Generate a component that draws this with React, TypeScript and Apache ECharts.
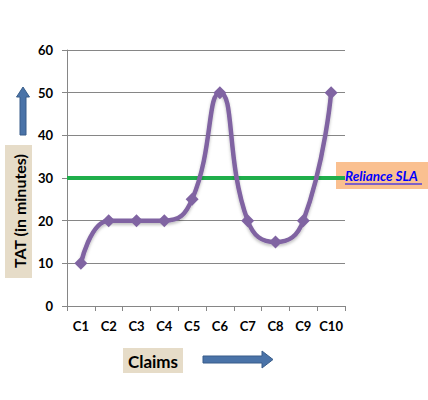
import React, { useEffect, useRef } from "react";
import * as echarts from "echarts";

const categories = ["C1", "C2", "C3", "C4", "C5", "C6", "C7", "C8", "C9", "C10"];
const tatValues = [10, 20, 20, 20, 25, 50, 20, 15, 20, 50];
const slaValue = 30;
const yTicks = { min: 0, max: 60, interval: 10 };

export default function App() {
  const ref = useRef<HTMLDivElement>(null);
  useEffect(() => {
    document.body.style.margin = "0";
    const chart = echarts.init(ref.current!, null, { renderer: "svg" });
    const font = "Lato, 'Open Sans', sans-serif";
    chart.setOption({
      animation: false,
      backgroundColor: "#ffffff",
      grid: { left: 67, right: 83, top: 50, bottom: 94 },
      xAxis: {
        type: "category",
        data: categories,
        boundaryGap: true,
        axisLine: { lineStyle: { color: "#868686", width: 1 } },
        axisTick: { show: true, alignWithLabel: false, length: 5, lineStyle: { color: "#868686" } },
        axisLabel: { interval: 0, color: "#000", fontWeight: "bold", fontSize: 13, fontFamily: font, margin: 13 },
        splitLine: { show: false },
      },
      yAxis: {
        type: "value",
        min: yTicks.min,
        max: yTicks.max,
        interval: yTicks.interval,
        axisLine: { show: true, lineStyle: { color: "#868686", width: 1 } },
        axisTick: { show: true, length: 5, lineStyle: { color: "#868686" } },
        axisLabel: { color: "#000", fontWeight: "bold", fontSize: 13, fontFamily: font, margin: 14 },
        splitLine: { show: true, lineStyle: { color: "#868686", width: 1 } },
      },
      series: [
        {
          type: "line",
          data: tatValues,
          smooth: 0.5,
          symbol: "diamond",
          symbolSize: 13,
          lineStyle: { color: "#8064A2", width: 4.5, shadowColor: "rgba(0,0,0,0.25)", shadowBlur: 3, shadowOffsetY: 2 },
          itemStyle: { color: "#8064A2" },
          z: 3,
          markLine: {
            silent: true,
            symbol: ["none", "none"],
            label: { show: false },
            lineStyle: { color: "#1FAE4B", width: 4, type: "solid" },
            data: [{ yAxis: slaValue }],
            z: 2,
          },
        },
      ],
      graphic: [
        { type: "rect", left: 5, top: 145, shape: { width: 27, height: 133 }, style: { fill: "#E6DCC8" } },
        {
          type: "text",
          x: 19,
          y: 211,
          rotation: Math.PI / 2,
          style: {
            text: "TAT (in minutes)",
            fontSize: 16,
            fontWeight: "bold",
            fontFamily: font,
            fill: "#000",
            align: "center",
            verticalAlign: "middle",
          },
        },
        {
          type: "polygon",
          shape: {
            points: [
              [20, 135], [26, 135], [26, 97], [29.5, 97], [23, 87], [16.5, 97], [20, 97],
            ],
          },
          style: { fill: "#4A73A8", stroke: "#385D8A", lineWidth: 1 },
        },
        { type: "rect", left: 123, top: 348, shape: { width: 60, height: 25 }, style: { fill: "#E6DCC8" } },
        {
          type: "text",
          x: 153,
          y: 361,
          style: {
            text: "Claims",
            fontSize: 17,
            fontWeight: "bold",
            fontFamily: font,
            fill: "#000",
            align: "center",
            verticalAlign: "middle",
          },
        },
        {
          type: "polygon",
          shape: {
            points: [
              [203, 356], [262, 356], [262, 351], [273, 359.5], [262, 368], [262, 363], [203, 363],
            ],
          },
          style: { fill: "#4A73A8", stroke: "#385D8A", lineWidth: 1 },
        },
        { type: "rect", left: 336, top: 162, shape: { width: 92, height: 27 }, style: { fill: "#FAC090" } },
        {
          type: "text",
          x: 345,
          y: 176,
          style: {
            text: "Reliance SLA",
            fontSize: 13.5,
            fontWeight: "bold",
            fontStyle: "italic",
            fontFamily: font,
            fill: "#0000FF",
            align: "left",
            verticalAlign: "middle",
          },
        },
        { type: "line", shape: { x1: 345, y1: 184, x2: 422, y2: 184 }, style: { stroke: "#0000FF", lineWidth: 1 } },
      ],
    });
    return () => chart.dispose();
  }, []);
  return <div ref={ref} style={{ width: 428, height: 400 }} />;
}
